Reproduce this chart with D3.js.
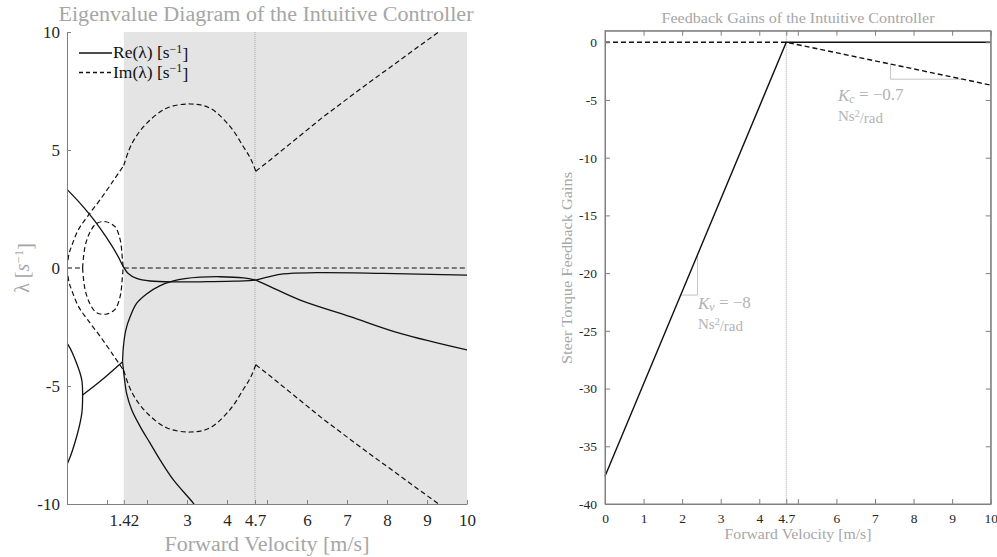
<!DOCTYPE html>
<html><head><meta charset="utf-8">
<script src="https://cdn.jsdelivr.net/npm/d3@7"></script>
<style>
html,body{margin:0;padding:0;background:#fff;overflow:hidden}
text{font-family:"Liberation Serif","DejaVu Serif",serif}
</style></head>
<body><svg id="c" width="997" height="557"></svg>
<script>
// ---------- DATA (left: eigenvalues vs forward velocity) ----------
const reStart      = [[0,3.87],[0,2.97]];
const reUpper      = [[0,3.33],[0.33,2.74],[0.575,2.25],[0.83,1.68],[1.08,1.05],[1.28,0.48],[1.41,0.05],[1.53,-0.23],[1.74,-0.44],[2.08,-0.55],[2.74,-0.59],[3.5,-0.58],[4.2,-0.56],[4.72,-0.51]];
const reRising     = [[1.39,-3.97],[1.41,-3.33],[1.47,-2.63],[1.58,-2.06],[1.74,-1.5],[1.99,-1.1],[2.33,-0.75],[2.66,-0.55],[2.95,-0.45],[3.33,-0.39],[3.83,-0.37],[4.41,-0.42],[4.72,-0.51]];
const reAfterUp    = [[4.72,-0.51],[5.41,-0.25],[6.24,-0.2],[7.9,-0.23],[10,-0.3]];
const reAfterDown  = [[4.72,-0.51],[5.08,-0.79],[5.83,-1.36],[7.08,-2.06],[8.33,-2.77],[10,-3.47]];
const reLowArc     = [[0,-3.2],[0.03,-3.26],[0.24,-4.04],[0.37,-4.75],[0.39,-5.38],[0.37,-6.16],[0.24,-7.15],[0.03,-8.21],[0,-8.3]];
const reComplexC   = [[0.39,-5.38],[0.83,-4.8],[1.39,-3.97]];
const reSteep      = [[1.39,-3.97],[1.43,-4.6],[1.49,-5.31],[1.62,-6.02],[1.83,-6.72],[2.08,-7.43],[2.33,-8.14],[2.66,-8.98],[3.16,-9.97],[3.25,-10.2]];
const imOuterA     = [[0,0],[0.05,0.6],[0.12,0.95],[0.28,1.61],[0.51,2.18],[0.83,2.9],[1.16,3.7],[1.42,4.35]];
const imOuterB     = [[1.42,4.35],[1.55,5.0],[1.7,5.5],[1.99,6.13],[2.49,6.77],[3.08,6.95],[3.58,6.77],[4.08,5.99],[4.41,5.14],[4.6,4.6],[4.72,4.1]];
const imOuterC     = [[4.72,4.1],[5.08,4.58],[6.41,6.41],[7.41,7.68],[9.24,9.94],[9.5,10.27]];
const imSmall      = [[0.39,0],[0.45,0.9],[0.58,1.54],[0.74,1.89],[0.97,1.96],[1.2,1.75],[1.33,1.19],[1.38,0.48],[1.4,0]];
const imZero1      = [[0,0],[0.39,0]];
const imZero2      = [[1.42,0],[10,0]];
const leftXTicks   = [1,1.42,2,3,4,4.7,5,6,7,8,9,10];
const leftXLabels  = ["","1.42","","3","4","4.7","","6","7","8","9","10"];
const leftYTicks   = [-10,-5,0,5,10];
const shadeRange   = [1.42,10];
const vCrit        = 4.7;

// ---------- DATA (right: feedback gains) ----------
const gainV        = [0,4.7,10];
const gainKv       = [-37.6,0,0];
const gainKc       = [0,0,-3.71];
const rightXTicks  = [0,1,2,3,4,4.7,5,6,7,8,9,10];
const rightXLabels = ["0","1","2","3","4","4.7","","6","7","8","9","10"];
const rightYTicks  = [0,-5,-10,-15,-20,-25,-30,-35,-40];
const triKc        = [[7.4,-1.89],[7.4,-3.2],[9.27,-3.2]];
const triKv        = [[2.4,-18.4],[2.4,-21.9],[1.96,-21.9]];

const svg = d3.select("#c");
const GRAY_AX = "#808080", GRAY_TXT = "#a6a6a6", TICK_TXT = "#262626", SHADE = "#e4e4e4";
const hy = d => String(d); // hyphen-minus like the reference

// ================= LEFT CHART =================
const L = {l:67, r:467, t:32, b:504};
const xL = d3.scaleLinear().domain([0,10]).range([L.l,L.r]);
const yL = d3.scaleLinear().domain([-10,10]).range([L.b,L.t]);
const gL = svg.append("g");
svg.append("defs").append("clipPath").attr("id","clipL").append("rect")
  .attr("x",L.l).attr("y",L.t).attr("width",L.r-L.l).attr("height",L.b-L.t);

gL.append("rect").attr("x",xL(shadeRange[0])).attr("y",L.t)
  .attr("width",xL(shadeRange[1])-xL(shadeRange[0])).attr("height",L.b-L.t).attr("fill",SHADE);
gL.append("line").attr("x1",xL(vCrit)).attr("x2",xL(vCrit)).attr("y1",L.t).attr("y2",L.b)
  .attr("stroke","#a8a8a8").attr("stroke-width",1).attr("stroke-dasharray","1,1");

const lineL = d3.line().x(d=>xL(d[0])).y(d=>yL(d[1])).curve(d3.curveCatmullRom.alpha(0.5));
const lineLin = d3.line().x(d=>xL(d[0])).y(d=>yL(d[1]));
const plotL = gL.append("g").attr("clip-path","url(#clipL)");
const mirror = a => a.map(d=>[d[0],-d[1]]);
const solid = [reStart,reUpper,reRising,reAfterUp,reAfterDown,reLowArc,reComplexC,reSteep];
solid.forEach(s=>plotL.append("path").attr("d",(s.length>2?lineL:lineLin)(s))
  .attr("fill","none").attr("stroke","#111").attr("stroke-width",1.3));
const smallFull = imSmall.concat(mirror(imSmall).reverse().slice(1));
const imOuterCm = mirror(imOuterC);
const dashed = [imOuterA,imOuterB,imOuterC,mirror(imOuterA),mirror(imOuterB),imOuterCm,smallFull,imZero1,imZero2];
dashed.forEach(s=>{
  const gen = (s===imOuterC || s===imOuterCm || s.length<=2) ? lineLin : lineL;
  plotL.append("path").attr("d",gen(s)).attr("fill","none").attr("stroke","#111")
    .attr("stroke-width",1.2).attr("stroke-dasharray","5,3");
});

// axes
const axYL = d3.axisLeft(yL).tickValues(leftYTicks).tickSizeInner(-4).tickSizeOuter(0).tickPadding(7).tickFormat(hy);
const gAY = gL.append("g").attr("transform",`translate(${L.l},0)`).call(axYL);
const axXL = d3.axisBottom(xL).tickValues(leftXTicks).tickSizeInner(-4).tickSizeOuter(0).tickPadding(10)
  .tickFormat((d,i)=>leftXLabels[i]);
const gAX = gL.append("g").attr("transform",`translate(0,${L.b})`).call(axXL);
[gAY,gAX].forEach(g=>{
  g.select(".domain").attr("stroke",GRAY_AX);
  g.selectAll(".tick line").attr("stroke",GRAY_AX);
  g.selectAll(".tick text").attr("fill",TICK_TXT).style("font-size","17px").style("font-family","Liberation Serif");
});
gAY.selectAll(".tick text").attr("dy","0.35em");

gL.append("text").attr("x",266).attr("y",21).attr("text-anchor","middle").attr("fill",GRAY_TXT)
  .attr("textLength",415).attr("lengthAdjust","spacingAndGlyphs")
  .style("font-size","20.5px").text("Eigenvalue Diagram of the Intuitive Controller");
gL.append("text").attr("x",267).attr("y",551).attr("text-anchor","middle").attr("fill",GRAY_TXT)
  .attr("textLength",205).attr("lengthAdjust","spacingAndGlyphs")
  .style("font-size","20px").text("Forward Velocity [m/s]");
const yl = gL.append("text").attr("transform","translate(29,268) rotate(-90)").attr("text-anchor","middle")
  .attr("fill",GRAY_TXT).style("font-size","20px");
yl.append("tspan").text("λ [");
yl.append("tspan").style("font-style","italic").text("s");
yl.append("tspan").attr("dy","-0.45em").style("font-size","13px").text("−1");
yl.append("tspan").attr("dy","0.45em").text("]");

// legend
const leg = [{lab:"Re(λ) [s",dash:null,y:53},{lab:"Im(λ) [s",dash:"4,3",y:72.5}];
leg.forEach(e=>{
  gL.append("line").attr("x1",79).attr("x2",112).attr("y1",e.y).attr("y2",e.y)
    .attr("stroke","#111").attr("stroke-width",1.3).attr("stroke-dasharray",e.dash);
  const t = gL.append("text").attr("x",113).attr("y",e.y+5).attr("fill","#111").style("font-size","17.5px");
  t.append("tspan").text(e.lab);
  t.append("tspan").attr("dy","-0.45em").style("font-size","12px").text("−1");
  t.append("tspan").attr("dy","0.45em").text("]");
});

// ================= RIGHT CHART =================
const R = {l:605, r:990.7, t:30.7, b:504};
const xR = d3.scaleLinear().domain([0,10]).range([R.l,R.r]);
const yR = d3.scaleLinear().domain([-40,1]).range([R.b,R.t]);
const gR = svg.append("g");
gR.append("line").attr("x1",xR(vCrit)).attr("x2",xR(vCrit)).attr("y1",R.t).attr("y2",R.b)
  .attr("stroke","#a8a8a8").attr("stroke-width",1).attr("stroke-dasharray","1,1");

const lineR = d3.line().x(d=>xR(d[0])).y(d=>yR(d[1]));
gR.append("path").attr("d",lineR(triKc)).attr("fill","none").attr("stroke","#c4c4c4").attr("stroke-width",1);
gR.append("path").attr("d",lineR(triKv)).attr("fill","none").attr("stroke","#c4c4c4").attr("stroke-width",1);
gR.append("path").attr("d",lineR(gainV.map((v,i)=>[v,gainKv[i]]))).attr("fill","none").attr("stroke","#111").attr("stroke-width",1.4);
gR.append("path").attr("d",lineR(gainV.map((v,i)=>[v,gainKc[i]]))).attr("fill","none").attr("stroke","#111")
  .attr("stroke-width",1.4).attr("stroke-dasharray","5,3");

const aL = gR.append("g").attr("transform",`translate(${R.l},0)`).call(d3.axisLeft(yR).tickValues(rightYTicks).tickSizeInner(-5).tickSizeOuter(0).tickPadding(8).tickFormat(hy));
const aRt = gR.append("g").attr("transform",`translate(${R.r},0)`).call(d3.axisRight(yR).tickValues(rightYTicks).tickSizeInner(-5).tickSizeOuter(0).tickFormat(""));
const aB = gR.append("g").attr("transform",`translate(0,${R.b})`).call(d3.axisBottom(xR).tickValues(rightXTicks).tickSizeInner(-5).tickSizeOuter(0).tickPadding(9).tickFormat((d,i)=>rightXLabels[i]));
const aT = gR.append("g").attr("transform",`translate(0,${R.t})`).call(d3.axisTop(xR).tickValues(rightXTicks).tickSizeInner(-5).tickSizeOuter(0).tickFormat(""));
[aL,aRt,aB,aT].forEach(g=>{
  g.select(".domain").attr("stroke",GRAY_AX);
  g.selectAll(".tick line").attr("stroke",GRAY_AX);
  g.selectAll(".tick text").attr("fill",TICK_TXT).style("font-size","13.5px").style("font-family","Liberation Serif");
});
gR.append("rect").attr("x",R.l).attr("y",R.t).attr("width",R.r-R.l).attr("height",R.b-R.t)
  .attr("fill","none").attr("stroke",GRAY_AX).attr("stroke-width",1);

gR.append("text").attr("x",798).attr("y",23).attr("text-anchor","middle").attr("fill",GRAY_TXT)
  .attr("textLength",273).attr("lengthAdjust","spacingAndGlyphs")
  .style("font-size","15px").text("Feedback Gains of the Intuitive Controller");
gR.append("text").attr("x",798).attr("y",539).attr("text-anchor","middle").attr("fill",GRAY_TXT)
  .attr("textLength",147).attr("lengthAdjust","spacingAndGlyphs")
  .style("font-size","15px").text("Forward Velocity [m/s]");
gR.append("text").attr("transform","translate(572,268) rotate(-90)").attr("text-anchor","middle")
  .attr("fill",GRAY_TXT).attr("textLength",192).attr("lengthAdjust","spacingAndGlyphs")
  .style("font-size","15px").text("Steer Torque Feedback Gains");

function gainLabel(x,y,sub,val){
  const t = gR.append("text").attr("x",x).attr("y",y).attr("fill","#b3b3b3").style("font-size","17px");
  t.append("tspan").style("font-style","italic").text("K");
  t.append("tspan").attr("dy","0.2em").style("font-size","12px").style("font-style","italic").text(sub);
  t.append("tspan").attr("dy","-0.2em").text(" = −"+val);
  const u = gR.append("text").attr("x",x).attr("y",y+20).attr("fill","#b3b3b3").style("font-size","15px");
  u.append("tspan").text("Ns");
  u.append("tspan").attr("dy","-0.4em").style("font-size","10px").text("2");
  u.append("tspan").attr("dy","0.4em").text("/rad");
}
gainLabel(838,101,"c","0.7");
gainLabel(698,309,"v","8");
</script></body></html>
